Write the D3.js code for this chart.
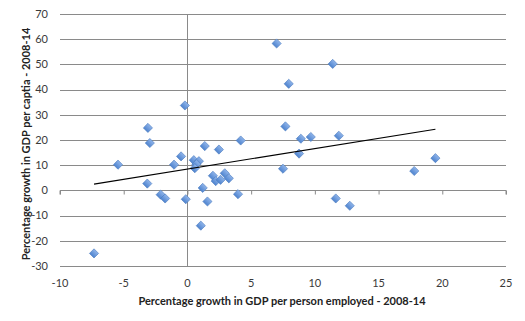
<!DOCTYPE html>
<html>
<head>
<meta charset="utf-8">
<script src="https://cdn.jsdelivr.net/npm/d3@7"></script>
<style>
  html, body { margin: 0; padding: 0; background: #fff; }
  svg { display: block; font-family: Lato, "Open Sans", sans-serif; }
</style>
</head>
<body>
<svg id="chart" width="525" height="321"></svg>
<script>
// Growth in GDP per person employed (x) vs growth in GDP per capita (y), 2008-14
const productivityGrowth = [
  -7.33, -5.45, -3.1, -2.95, -3.15, -2.1, -1.75, -1.05, -0.5, -0.2,
  -0.13, 0.5, 0.9, 0.7, 0.58, 1.2, 1.05, 1.57, 1.36, 2.47,
  2.0, 2.93, 3.25, 2.22, 2.6, 3.97, 4.18, 7.0, 7.95, 11.4,
  7.69, 8.9, 9.68, 11.88, 8.76, 7.5, 11.64, 12.74, 17.8, 19.46
];
const perCapitaGrowth = [
  -25, 10.2, 24.8, 18.8, 2.7, -1.7, -3.2, 10.2, 13.5, 33.7,
  -3.5, 12, 11.6, 10.4, 8.8, 1.0, -14, -4.4, 17.6, 16.2,
  5.8, 6.8, 4.8, 3.7, 4.2, -1.5, 19.8, 58.3, 42.3, 50.2,
  25.4, 20.5, 21.2, 21.7, 14.6, 8.6, -3.2, -6.1, 7.7, 12.8
];

// Linear trend line
const trendSlope = 0.813;
const trendIntercept = 8.46;

const xTicks = [-10, -5, 0, 5, 10, 15, 20, 25];
const yTicks = [-30, -20, -10, 0, 10, 20, 30, 40, 50, 60, 70];

const xTitle = "Percentage growth in GDP per person employed - 2008-14";
const yTitle = "Percentage growth in GDP per captia - 2008-14";

const svg = d3.select("#chart");
const plot = { left: 60, right: 506, top: 14, bottom: 266 };

const x = d3.scaleLinear().domain([-10, 25]).range([plot.left, plot.right]);
const y = d3.scaleLinear().domain([-30, 70]).range([plot.bottom, plot.top]);

const gridColor = "#8a8a8a";
const textColor = "#3a3a3a";

// Horizontal gridlines
svg.append("g")
  .selectAll("line")
  .data(yTicks.filter(d => d !== 0))
  .join("line")
  .attr("x1", plot.left).attr("x2", plot.right)
  .attr("y1", d => Math.round(y(d)) + 0.5).attr("y2", d => Math.round(y(d)) + 0.5)
  .attr("stroke", gridColor).attr("stroke-width", 1);

// Vertical axis line at x = 0
svg.append("line")
  .attr("x1", Math.round(x(0)) + 0.5).attr("x2", Math.round(x(0)) + 0.5)
  .attr("y1", plot.top).attr("y2", plot.bottom)
  .attr("stroke", gridColor).attr("stroke-width", 1);

// Horizontal axis at y = 0, with tick marks
const y0 = Math.round(y(0)) + 0.5;
const xAxis = d3.axisBottom(x).tickValues(xTicks).tickSize(4).tickFormat("");
const xAxisG = svg.append("g").attr("transform", `translate(0,${y0})`).call(xAxis);
xAxisG.selectAll("path, line").attr("stroke", gridColor);
xAxisG.select(".domain").attr("d", `M${plot.left},4V0H${plot.right}V4`);

// Y tick labels
svg.append("g")
  .selectAll("text")
  .data(yTicks)
  .join("text")
  .attr("x", plot.left - 12)
  .attr("y", d => y(d))
  .attr("dy", "0.35em")
  .attr("text-anchor", "end")
  .attr("font-size", 11)
  .attr("fill", textColor)
  .text(d => d);

// X tick labels
svg.append("g")
  .selectAll("text")
  .data(xTicks)
  .join("text")
  .attr("x", d => x(d))
  .attr("y", 283)
  .attr("dy", "0.35em")
  .attr("text-anchor", "middle")
  .attr("font-size", 11)
  .attr("fill", textColor)
  .text(d => d);

// Axis titles
svg.append("text")
  .attr("x", 282)
  .attr("y", 301)
  .attr("dy", "0.35em")
  .attr("text-anchor", "middle")
  .attr("font-size", 11)
  .attr("font-weight", "bold")
  .attr("fill", "#222")
  .text(xTitle);

svg.append("text")
  .attr("transform", "translate(26,144) rotate(-90)")
  .attr("dy", "0.35em")
  .attr("text-anchor", "middle")
  .attr("font-size", 11)
  .attr("font-weight", "bold")
  .attr("fill", "#222")
  .text(yTitle);

// Diamond markers
const defs = svg.append("defs");
const grad = defs.append("linearGradient")
  .attr("id", "markerFill").attr("x1", 0).attr("y1", 0).attr("x2", 0).attr("y2", 1);
grad.append("stop").attr("offset", "0%").attr("stop-color", "#8fb4ea");
grad.append("stop").attr("offset", "100%").attr("stop-color", "#4f84cf");

const points = productivityGrowth.map((v, i) => ({ x: v, y: perCapitaGrowth[i] }));
const diamond = d3.symbol().type(d3.symbolSquare).size(42);

svg.append("g")
  .selectAll("path")
  .data(points)
  .join("path")
  .attr("d", diamond)
  .attr("transform", d => `translate(${x(d.x)},${y(d.y)}) rotate(45)`)
  .attr("fill", "url(#markerFill)")
  .attr("stroke", "#4a7bc0")
  .attr("stroke-width", 0.6);

// Trend line spanning the range of the data
const [minX, maxX] = d3.extent(productivityGrowth);
svg.append("line")
  .attr("x1", x(minX)).attr("y1", y(trendSlope * minX + trendIntercept))
  .attr("x2", x(maxX)).attr("y2", y(trendSlope * maxX + trendIntercept))
  .attr("stroke", "#000").attr("stroke-width", 1.1);
</script>
</body>
</html>
